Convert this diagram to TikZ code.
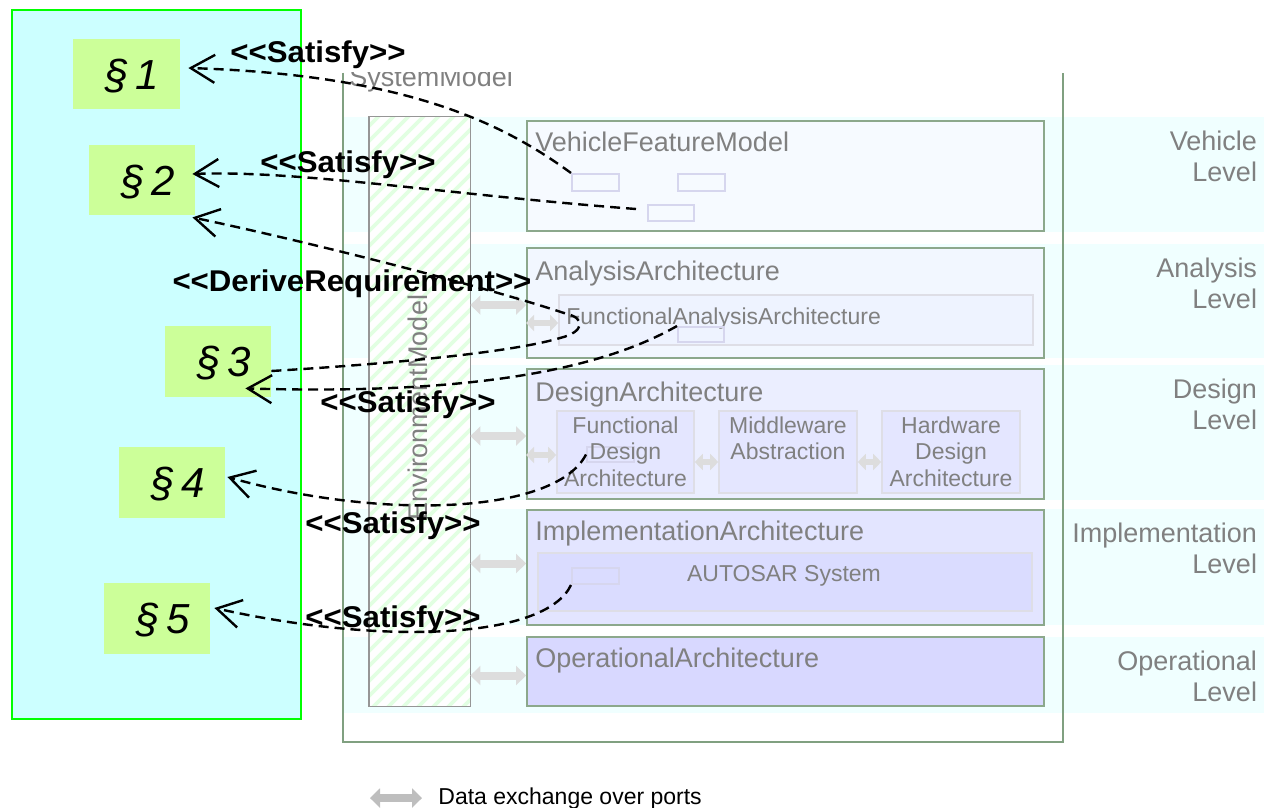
\documentclass[tikz,border=0pt]{standalone}
\usepackage{fontspec}
\setmainfont{Liberation Sans}
\newfontfamily\lblfont[FakeStretch=1.04]{Liberation Sans}
\usetikzlibrary{arrows.meta,calc,fit}
\definecolor{reqbg}{RGB}{204,255,255}
\definecolor{reqborder}{RGB}{0,255,0}
\definecolor{parbg}{RGB}{204,255,153}
\definecolor{bandc}{RGB}{240,255,255}
\definecolor{framec}{RGB}{128,160,128}
\definecolor{boxborder}{RGB}{140,168,140}
\definecolor{titlegray}{RGB}{128,128,128}
\definecolor{stripec}{RGB}{226,255,226}
\definecolor{envborder}{RGB}{150,150,150}
\definecolor{vbg}{RGB}{246,250,255}
\definecolor{abg}{RGB}{242,247,255}
\definecolor{fabg}{RGB}{238,243,255}
\definecolor{dbg}{RGB}{235,238,255}
\definecolor{dsub}{RGB}{228,230,255}
\definecolor{ibg}{RGB}{227,229,255}
\definecolor{isub}{RGB}{218,220,255}
\definecolor{obg}{RGB}{216,216,255}
\definecolor{portc}{RGB}{214,214,238}
\definecolor{innerborder}{RGB}{222,222,230}
\definecolor{dxgray}{RGB}{221,221,221}
\definecolor{leggray}{RGB}{190,190,190}
\begin{document}
\begin{tikzpicture}[x=0.5pt,y=-0.5pt,
  band/.style={fill=bandc, draw=none, inner sep=0},
  archbox/.style={draw=boxborder, line width=0.9pt, inner sep=0},
  subbox/.style={draw=innerborder, line width=0.8pt, inner sep=0},
  port/.style={draw=portc, line width=1pt, inner sep=0},
  title/.style={font=\fontsize{13.5}{15.5}\selectfont, text=titlegray, inner sep=0, anchor=base west},
  subtext/.style={font=\fontsize{11.5}{13.25}\selectfont, text=titlegray, inner sep=0, align=center},
  leveltext/.style={font=\fontsize{13.5}{15.5}\selectfont, text=titlegray, inner sep=0, align=right, anchor=north east},
  para/.style={fill=parbg, draw=none, inner sep=0},
  paratext/.style={inner sep=0, font=\fontsize{21}{24}\selectfont\itshape},
  dx/.style={draw=dxgray, line width=4pt, {Triangle[length=5pt,width=9.5pt]}-{Triangle[length=5pt,width=9.5pt]}},
  dxs/.style={draw=dxgray, line width=3pt, {Triangle[length=4pt,width=8pt]}-{Triangle[length=4pt,width=8pt]}},
  sat/.style={draw=black, line width=1.2pt, dash pattern=on 5pt off 3pt, -{Straight Barb[length=12pt,width=14pt]}},
  rel/.style={font=\lblfont\bfseries\fontsize{15}{17}\selectfont, inner sep=0, anchor=base},
]
\useasboundingbox (0,0) rectangle (1264,808);

% level bands
\node[band, fit={(343,117)(1264,232)}] (vb) {};
\node[band, fit={(343,244)(1264,358)}] (ab) {};
\node[band, fit={(343,365)(1264,500)}] (db) {};
\node[band, fit={(343,509)(1264,625)}] (ib) {};
\node[band, fit={(343,637)(1264,713)}] (ob) {};

\node[leveltext] (vl) at ($(vb.north east)+(-7,14)$) {Vehicle\\Level};
\node[leveltext] (al) at ($(ab.north east)+(-7,14)$) {Analysis\\Level};
\node[leveltext] (dl) at ($(db.north east)+(-7,14)$) {Design\\Level};
\node[leveltext] (il) at ($(ib.north east)+(-7,14)$) {Implementation\\Level};
\node[leveltext] (ol) at ($(ob.north east)+(-7,14)$) {Operational\\Level};

% system model frame
\node[inner sep=0, fit={(343,73)(1063,742)}] (sysm) {};
\draw[framec, line width=1pt] (sysm.north west) -- (sysm.south west) -- (sysm.south east) -- (sysm.north east);
\begin{scope}
\clip (343,73) rectangle (800,110);
\node[title] (smtxt) at (349,87) {SystemModel};
\end{scope}

% environment model
\node[fit={(369,117)(470,706)}, inner sep=0, fill=white] (env) {};
\begin{scope}
\clip (env.north west) rectangle (env.south east);
\foreach \k in {-240,-225,...,480} {\draw[stripec, line width=1.8pt] (\k,720) -- (\k+620,100);}
\end{scope}
\draw[envborder, line width=0.9pt] (env.north west) rectangle (env.south east);
\node[rotate=90, font=\fontsize{13.5}{15.5}\selectfont, text=titlegray, inner sep=0] (envtxt) at ($(env.center)+(-2,-4)$) {EnvironmentModel};

% architecture boxes
\node[archbox, fill=vbg, fit={(527,121)(1044,231)}] (vfm) {};
\node[title] (vfmt) at (535,152) {VehicleFeatureModel};
\node[port, fit={(572,174)(619,191)}] (p1) {};
\node[port, fit={(678,174)(725,191)}] (p2) {};
\node[port, fit={(648,205)(694,221)}] (p3) {};

\node[archbox, fill=abg, fit={(527,248)(1044,358)}] (aa) {};
\node[title] (aat) at (535,280) {AnalysisArchitecture};
\node[subbox, fill=fabg, fit={(559,295)(1033,345)}] (fa) {};
\node[subtext, anchor=base west] (fat) at (566,324) {FunctionalAnalysisArchitecture};
\node[port, fit={(678,327)(724,342)}] (pfa) {};

\node[archbox, fill=dbg, fit={(527,369)(1044,499)}] (da) {};
\node[title] (dat) at (535,401) {DesignArchitecture};
\node[subbox, fill=dsub, fit={(557,411)(694,493)}] (fd) {};
\node[subbox, fill=dsub, fit={(719,411)(857,493)}] (mw) {};
\node[subbox, fill=dsub, fit={(882,411)(1020,493)}] (hw) {};
\node[port, fit={(587,447)(634,462)}] (pfd) {};
\node[subtext, anchor=north] (fdt) at ($(fd.north)+(0,6)$) {Functional\\Design\\Architecture};
\node[subtext, anchor=north] (mwt) at ($(mw.north)+(0,6)$) {Middleware\\Abstraction};
\node[subtext, anchor=north] (hwt) at ($(hw.north)+(0,6)$) {Hardware\\Design\\Architecture};

\node[archbox, fill=ibg, fit={(527,510)(1044,625)}] (ia) {};
\node[title] (iat) at (535,540) {ImplementationArchitecture};
\node[subbox, fill=isub, fit={(538,553)(1032,611)}] (as) {};
\node[subtext, anchor=base] (ast) at (784,581) {AUTOSAR System};
\node[port, fit={(572,568)(619,584)}] (pas) {};

\node[archbox, fill=obg, fit={(527,637)(1044,706)}] (oa) {};
\node[title] (oat) at (535,667) {OperationalArchitecture};

% data exchange arrows
\draw[dx] ($(env.east |- aa.west)+(0,2)$) -- ($(aa.west)+(0,2)$);
\draw[dx] ($(env.east |- da.west)+(0,2)$) -- ($(da.west)+(0,2)$);
\draw[dx] ($(env.east |- ia.west)+(0,-4)$) -- ($(ia.west)+(0,-4)$);
\draw[dx] ($(env.east |- oa.west)+(0,4)$) -- ($(oa.west)+(0,4)$);
\draw[dxs] ($(aa.west |- fa.west)+(0,3)$) -- ($(fa.west)+(0,3)$);
\draw[dxs] ($(da.west |- fd.west)+(0,3)$) -- ($(fd.west)+(0,3)$);
\draw[dxs] ($(fd.east)+(0,10)$) -- ($(mw.west)+(0,10)$);
\draw[dxs] ($(mw.east)+(0,10)$) -- ($(hw.west)+(0,10)$);

% legend
\node[anchor=base west, inner sep=0, font=\fontsize{11.5}{13.5}\selectfont] (legtxt) at (438,804) {Data exchange over ports};
\draw[dx, draw=leggray] ($(legtxt.west)+(-68,0)$) -- ($(legtxt.west)+(-16,0)$);

% requirements
\node[fit={(12,10)(301,719)}, inner sep=0, fill=reqbg, draw=reqborder, line width=1.25pt] (req) {};
\node[para, fit={(73,39)(180,109)}] (r1) {};
\node[para, fit={(89,145)(195,215)}] (r2) {};
\node[para, fit={(165,326)(271,397)}] (r3) {};
\node[para, fit={(119,447)(225,518)}] (r4) {};
\node[para, fit={(104,583)(210,654)}] (r5) {};
\node[paratext] (r1t) at ($(r1.center)+(6,2)$) {\S\,1};
\node[paratext] (r2t) at ($(r2.center)+(6,2)$) {\S\,2};
\node[paratext] (r3t) at ($(r3.center)+(6,2)$) {\S\,3};
\node[paratext] (r4t) at ($(r4.center)+(6,2)$) {\S\,4};
\node[paratext] (r5t) at ($(r5.center)+(6,2)$) {\S\,5};

% connectors
\coordinate (t1) at ($(r1.east)+(8,-6)$);
\coordinate (s2) at ($(p3.west)+(-11,-4)$);
\coordinate (t2) at ($(r2.east)+(-3,-6)$);
\coordinate (s3) at ($(r3.east)+(0,9.5)$);
\coordinate (t3) at ($(r2.south east)+(-3,2)$);
\coordinate (t4) at ($(r3.south east)+(-26,-9)$);
\coordinate (t5) at ($(r4.east)+(2,-5.5)$);
\coordinate (t6) at ($(r5.east)+(4,-10.5)$);

\draw[sat] (p1.north west) .. controls (505,125) and (410,75) .. (t1);
\draw[sat] (s2) .. controls (450,195) and (300,170) .. (t2);
\draw[sat] (s3) .. controls (420,362) and (520,350) .. (560,338)
  .. controls (585,332) and (585,318) .. (567,314)
  .. controls (480,285) and (300,240) .. (t3);
\draw[sat] (pfa.north west) .. controls (600,370) and (470,395) .. (t4);
\draw[sat] (pfd.west) .. controls (555,515) and (380,520) .. (t5);
\draw[sat] (pas.south west) .. controls (545,640) and (380,645) .. (t6);

% relation labels
\node[rel] (l1) at (318,63) {<<Satisfy>>};
\node[rel] (l2) at (348,172) {<<Satisfy>>};
\node[rel] (l3) at (352,291) {<<DeriveRequirement>>};
\node[rel] (l4) at (408,412) {<<Satisfy>>};
\node[rel] (l5) at (393,533) {<<Satisfy>>};
\node[rel] (l6) at (393,627) {<<Satisfy>>};
\end{tikzpicture}
\end{document}
